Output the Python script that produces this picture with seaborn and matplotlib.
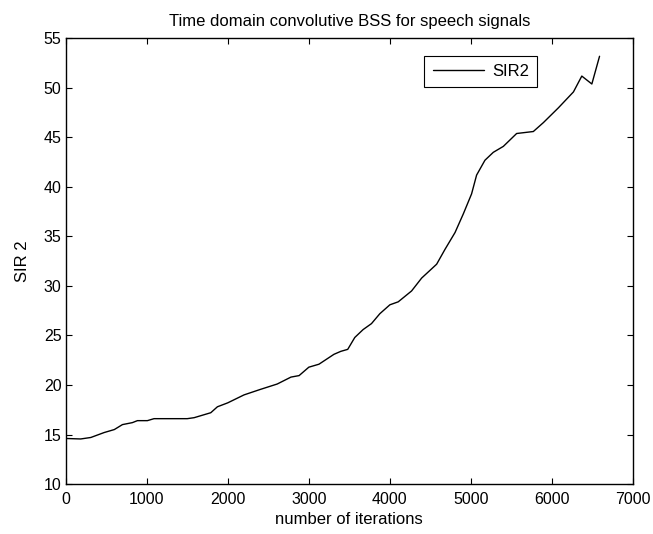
import pandas as pd
import matplotlib
matplotlib.use("Agg")
import matplotlib.pyplot as plt
import seaborn as sns

iterations = [0, 185, 310, 475, 600, 700, 823, 885, 1008, 1090, 1300, 1500, 1585,
              1790, 1872, 2000, 2200, 2400, 2610, 2780, 2880, 3000, 3125, 3310,
              3395, 3480, 3567, 3670, 3773, 3876, 4000, 4103, 4268, 4392, 4577,
              4680, 4804, 4907, 5008, 5070, 5173, 5276, 5400, 5564, 5770, 5894,
              6080, 6265, 6368, 6492, 6587]
sir2 = [14.6, 14.55, 14.7, 15.2, 15.5, 16.0, 16.2, 16.4, 16.4, 16.6, 16.6, 16.6, 16.7,
        17.2, 17.8, 18.2, 19.0, 19.55, 20.1, 20.8, 20.95, 21.8, 22.1, 23.1,
        23.4, 23.6, 24.8, 25.6, 26.2, 27.2, 28.1, 28.4, 29.5, 30.8, 32.2,
        33.7, 35.4, 37.3, 39.3, 41.2, 42.7, 43.5, 44.1, 45.4, 45.6, 46.5,
        48.0, 49.6, 51.2, 50.4, 53.2]

df = pd.DataFrame({"iterations": iterations, "SIR2": sir2})

sns.set_style("ticks")
plt.rcParams["font.family"] = ["Liberation Sans", "DejaVu Sans"]
plt.rcParams["xtick.direction"] = "in"
plt.rcParams["ytick.direction"] = "in"
plt.rcParams["text.color"] = "black"
plt.rcParams["axes.labelcolor"] = "black"

fig = plt.figure(figsize=(6.53, 5.34), dpi=100)
ax = fig.add_axes([0.1006, 0.0936, 0.8688, 0.8344])

sns.lineplot(data=df, x="iterations", y="SIR2", color="black", linewidth=1.0,
             label="SIR2", ax=ax)

ax.set_xlim(0, 7000)
ax.set_ylim(10, 55)
ax.set_xticks(range(0, 7001, 1000))
ax.set_yticks(range(10, 56, 5))
ax.tick_params(top=True, right=True, labelsize=11.5, length=4, width=0.8, colors="black")
ax.tick_params(axis="x", pad=6)
ax.tick_params(axis="y", pad=3)
for sp in ax.spines.values():
    sp.set_color("black")
    sp.set_linewidth(1.0)

ax.set_title("Time domain convolutive BSS for speech signals", fontsize=12, pad=9,
             color="black")
ax.set_xlabel("number of iterations", fontsize=12, labelpad=3, color="black")
ax.set_ylabel("SIR 2", fontsize=12, labelpad=10, color="black")

leg = ax.legend(loc="upper right", bbox_to_anchor=(0.831, 0.961), fontsize=12,
                frameon=True, fancybox=False, edgecolor="black", framealpha=1,
                handlelength=3.1, handletextpad=0.45, borderpad=0.5,
                borderaxespad=0)
leg.get_frame().set_linewidth(0.8)
for t in leg.get_texts():
    t.set_color("black")

fig.savefig("out.png", dpi=100)
